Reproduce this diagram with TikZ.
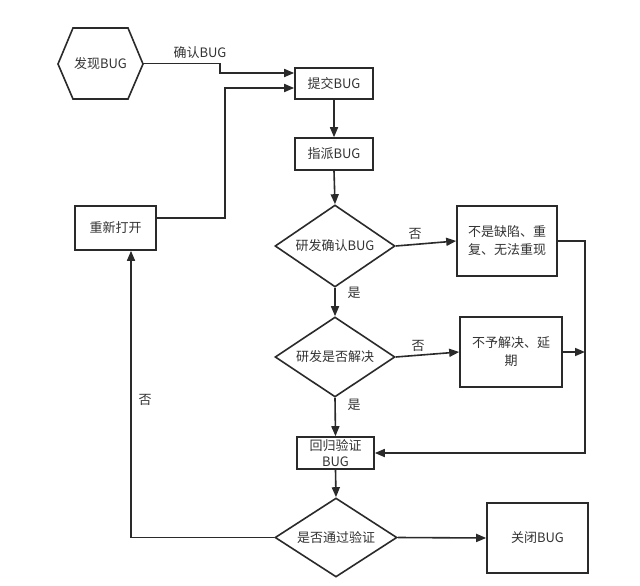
\documentclass[tikz,border=0pt]{standalone}
\usepackage{fontspec}
\setmainfont{Noto Sans CJK SC}
\usetikzlibrary{arrows.meta,shapes.geometric}
\definecolor{ln}{HTML}{2A2A2A}
\definecolor{tx}{HTML}{333333}
\begin{document}
\begin{tikzpicture}[x=1pt,y=-1pt,
  every node/.style={font=\fontsize{13}{18}\selectfont, text=tx},
  box/.style={draw=ln, line width=1.6pt, fill=white, inner sep=0pt, align=center},
  dia/.style={diamond, draw=ln, line width=1.6pt, fill=white, inner sep=0pt, aspect=1.46},
  arr/.style={draw=ln, line width=1.6pt, -{Triangle[length=10pt,width=8pt]}},
  ln/.style={draw=ln, line width=1.6pt},
  lab/.style={inner sep=1pt}]
\useasboundingbox[fill=white] (0,0) rectangle (640,586);

% hexagon start
\draw[ln, fill=white] (58,64) -- (73,28) -- (128,28) -- (143,64) -- (128,99) -- (73,99) -- cycle;
\node[minimum width=85pt, minimum height=71pt, inner sep=0pt] (hex) at (100.5,63.5) {发现BUG};

\node[box, minimum width=78pt, minimum height=31pt] (submit) at (334,83.5) {提交BUG};
\node[box, minimum width=78pt, minimum height=32pt] (assign) at (334,154) {指派BUG};
\node[box, minimum width=81pt, minimum height=44pt] (reopen) at (115.5,228) {重新打开};
\node[dia, minimum width=120pt, minimum height=82pt] (d1) at (335,246) {研发确认BUG};
\node[box, minimum width=100pt, minimum height=70pt] (notbug) at (507,241) {不是缺陷、重\\复、无法重现};
\node[dia, minimum width=120pt, minimum height=80pt] (d2) at (335,357) {研发是否解决};
\node[box, minimum width=102pt, minimum height=70pt] (defer) at (511,352) {不予解决、延\\期};
\node[box, minimum width=77pt, minimum height=32pt, font=\fontsize{13}{16}\selectfont] (regress) at (335.5,453) {回归验证\\BUG};
\node[dia, minimum width=122pt, minimum height=79pt] (d3) at (336,537.5) {是否通过验证};
\node[box, minimum width=101pt, minimum height=70pt] (close) at (537.5,538) {关闭BUG};

\coordinate (j1) at (220,73);
\coordinate (j2) at (225,88);
\coordinate (rr) at (585,453);

\draw[arr] (hex.east) -| (j1) -- (j1 -| submit.west);
\node[lab] (l1) at (200,53) {确认BUG};
\draw[arr] ([yshift=10pt]reopen.east) -| (j2) -- (j2 -| submit.west);
\draw[arr] (submit.south) -- (assign.north);
\draw[arr] (assign.south) -- (d1.north);
\draw[arr] (d1.east) -- (notbug.west);
\node[lab] (l2) at (415,234) {否};
\draw[arr] (d1.south) -- (d2.north);
\node[lab] (l3) at (354,293) {是};
\draw[arr] (d2.east) -- (defer.west);
\node[lab] (l4) at (418,346) {否};
\draw[arr] (d2.south) -- (regress.north);
\node[lab] (l5) at (354,405) {是};
\draw[arr] (notbug.east) -| (rr) -- (regress.east);
\draw[arr] (defer.east) -- (defer.east -| rr);
\draw[arr] (regress.south) -- (d3.north);
\draw[arr] (d3.east) -- (close.west);
\draw[arr] (d3.west) -| ([xshift=15.5pt]reopen.south);
\node[lab] (l6) at (145,400) {否};
\end{tikzpicture}
\end{document}
